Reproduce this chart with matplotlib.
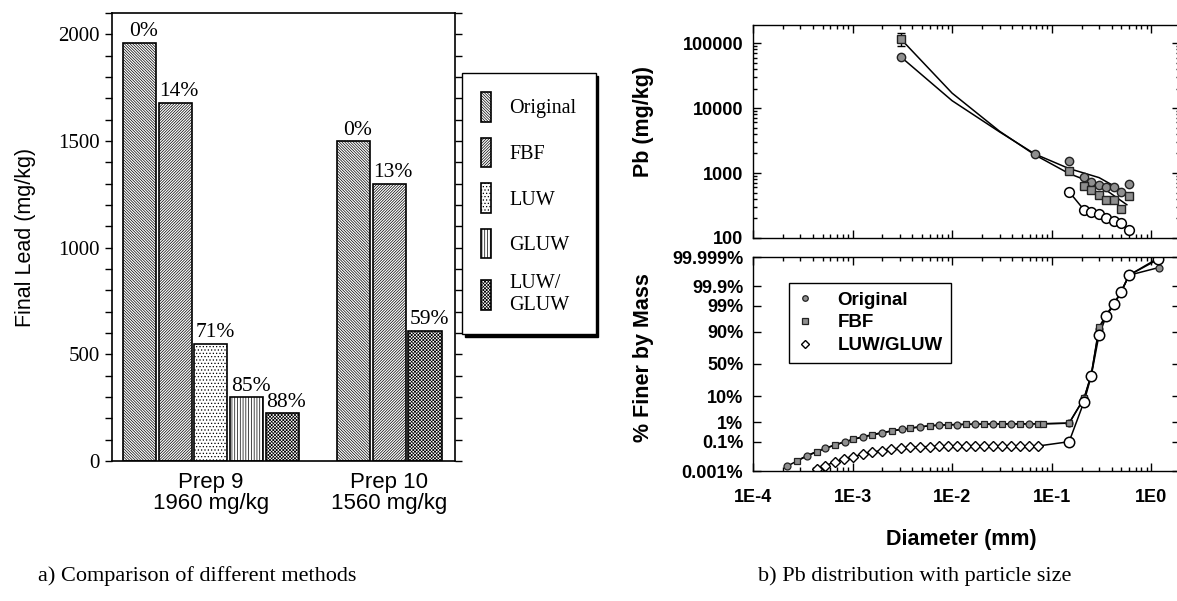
import numpy as np
import matplotlib
matplotlib.use('Agg')
import matplotlib.pyplot as plt
from matplotlib.ticker import (FixedLocator, FixedFormatter, NullLocator,
                               NullFormatter, LogLocator, FuncFormatter,
                               MultipleLocator)
from statistics import NormalDist

SERIF = 'Liberation Serif'
SANS = 'Liberation Sans'
plt.rcParams['hatch.linewidth'] = 0.5

# a) final lead after each method
methods = ['Original', 'FBF', 'LUW', 'GLUW', 'LUW/\nGLUW']
prep9_lead = [1960, 1680, 550, 300, 225]
prep9_removal = ['0%', '14%', '71%', '85%', '88%']
prep10_methods = ['Original', 'FBF', 'LUW/\nGLUW']
prep10_lead = [1500, 1300, 610]
prep10_removal = ['0%', '13%', '59%']
groups = ['Prep 9\n1960 mg/kg', 'Prep 10\n1560 mg/kg']

# b) top: Pb concentration vs diameter
orig_d_top = [0.00307, 0.068, 0.15, 0.212, 0.25, 0.3, 0.355, 0.425, 0.5, 0.6]
orig_pb_top = [61000, 1960, 1530, 870, 725, 650, 610, 615, 515, 670]
fbf_d_top = [0.00307, 0.15, 0.212, 0.25, 0.3, 0.355, 0.425, 0.5, 0.6]
fbf_pb_top = [115000, 1080, 630, 547, 460, 385, 385, 280, 450]
fbf_err_lo = [26000, 0, 0, 0, 0, 0, 0, 0, 0]
fbf_err_hi = [26000, 0, 0, 0, 0, 0, 0, 0, 0]
luw_d_top = [0.15, 0.212, 0.25, 0.3, 0.355, 0.425, 0.5, 0.6]
luw_pb_top = [515, 270, 254, 234, 200, 184, 172, 133]
orig_fit_d = [0.00307, 0.01, 0.03, 0.068, 0.15, 0.3, 0.57]
orig_fit_pb = [61000, 13000, 4300, 1960, 1170, 850, 490]
fbf_fit_d = [0.00307, 0.01, 0.03, 0.068, 0.15, 0.3, 0.57]
fbf_fit_pb = [115000, 17000, 4400, 1900, 980, 650, 325]

# b) bottom: cumulative % finer by mass
orig_d_bot = [2.18e-4, 3.47e-4, 5.29e-4, 8.41e-4, 1.28e-3, 1.96e-3, 3.12e-3,
              4.77e-3, 7.4e-3, 0.0112, 0.0170, 0.0258, 0.0392, 0.0594,
              0.15, 0.212, 0.25, 0.3, 0.355, 0.425, 0.5, 0.6, 1.2]
orig_pct_bot = [0.0022, 0.013, 0.039, 0.098, 0.19, 0.31, 0.47, 0.62, 0.74,
                0.79, 0.82, 0.84, 0.84, 0.85, 0.91, 8.6, 33, 92, 97.5, 99.2,
                99.8, 99.98, 99.994]
fbf_d_bot = [2.75e-4, 4.37e-4, 6.67e-4, 1.02e-3, 1.56e-3, 2.48e-3, 3.78e-3,
             6.01e-3, 9.1e-3, 0.0138, 0.0210, 0.0318, 0.0482, 0.0731, 0.082,
             0.15, 0.212, 0.25, 0.3, 0.355, 0.425, 0.5, 0.6, 1.18]
fbf_pct_bot = [0.0056, 0.024, 0.063, 0.135, 0.23, 0.38, 0.52, 0.70, 0.77,
               0.81, 0.83, 0.84, 0.85, 0.85, 0.85, 0.93, 8.6, 33, 93, 97.5,
               99.2, 99.8, 99.98, 99.9988]
luw_d_fine = [4.37e-4, 5.29e-4, 6.67e-4, 8.28e-4, 1.02e-3, 1.28e-3, 1.58e-3,
              1.96e-3, 2.44e-3, 3.05e-3, 3.78e-3, 4.77e-3, 6.01e-3, 7.4e-3,
              9.1e-3, 0.0112, 0.0138, 0.0170, 0.0210, 0.0258, 0.0318, 0.0392,
              0.0482, 0.0594, 0.0731]
luw_pct_fine = [0.0014, 0.0024, 0.005, 0.0073, 0.011, 0.017, 0.022, 0.028,
                0.034, 0.039, 0.045, 0.048, 0.050, 0.051, 0.052, 0.053, 0.053,
                0.053, 0.054, 0.054, 0.054, 0.054, 0.054, 0.054, 0.054]
luw_d_sieve = [0.15, 0.212, 0.25, 0.3, 0.355, 0.425, 0.5, 0.6, 1.18]
luw_pct_sieve = [0.098, 6.7, 31.6, 88, 97.2, 99.16, 99.8, 99.98, 99.9985]
pct_ticks = [0.001, 0.1, 1, 10, 50, 90, 99, 99.9, 99.999]
pct_labels = ['0.001%', '0.1%', '1%', '10%', '50%', '90%', '99%', '99.9%', '99.999%']

W, H = 1177, 601
fig = plt.figure(figsize=(W / 100, H / 100), dpi=100)


def box(x0, y0, x1, y1):
    # pixel box (top-left origin) -> figure fraction
    return [x0 / W, 1 - y1 / H, (x1 - x0) / W, (y1 - y0) / H]


# ---------------- a) bar chart ----------------
ax1 = fig.add_axes(box(112, 13, 455, 461))
hatches = ['\\' * 12, '/' * 12, '.' * 5, '|' * 6, 'x' * 10]
x9 = np.arange(len(prep9_lead))
x10 = np.arange(len(prep10_lead)) + len(prep9_lead) + 1
bars9 = ax1.bar(x9, prep9_lead, 0.93, color='white', edgecolor='black', linewidth=1.2)
bars10 = ax1.bar(x10, prep10_lead, 0.93, color='white', edgecolor='black', linewidth=1.2)
for b, h in zip(bars9, hatches):
    b.set_hatch(h)
for b, m in zip(bars10, prep10_methods):
    b.set_hatch(hatches[methods.index(m)])
for b, t in zip(list(bars9) + list(bars10), prep9_removal + prep10_removal):
    ax1.annotate(t, (b.get_x() + b.get_width() * 0.62, b.get_height()),
                 xytext=(0, 1), textcoords='offset points', ha='center', va='bottom',
                 family=SERIF, fontsize=15.5)
ax1.set_xlim(-0.77, 8.84)
ax1.set_ylim(0, 2100)
ax1.yaxis.set_major_locator(MultipleLocator(500))
ax1.yaxis.set_minor_locator(MultipleLocator(100))
ax1.tick_params(axis='y', which='both', direction='out', right=True, length=5,
                width=1, labelsize=15, labelfontfamily=SERIF, pad=4)
ax1.set_xticks([x9.mean(), x10.mean()], groups)
ax1.tick_params(axis='x', length=0, pad=8, labelsize=16, labelfontfamily=SANS)
for lab in ax1.get_xticklabels():
    lab.set_linespacing(1.0)
for s in ax1.spines.values():
    s.set_linewidth(1.2)
ax1.set_ylabel('Final Lead (mg/kg)', family=SANS, fontsize=15.5)
ax1.yaxis.set_label_coords(-0.222, 0.5)
leg1 = ax1.legend(list(bars9), methods, loc='upper left',
                  bbox_to_anchor=(462 / W, 1 - 73 / H), bbox_transform=fig.transFigure,
                  prop={'family': SERIF, 'size': 14.5}, handlelength=0.5,
                  handleheight=1.9, labelspacing=0.78, borderpad=0.95,
                  handletextpad=0.9, fancybox=False, edgecolor='black',
                  shadow={'color': 'black', 'alpha': 1}, framealpha=1,
                  borderaxespad=0)
leg1.get_frame().set_linewidth(1.0)

# ---------------- b) Pb vs particle size ----------------
xmax = 1.95
ax2 = fig.add_axes(box(753, 25, 1180, 238))
ax3 = fig.add_axes(box(753, 257, 1180, 471))

gray = '#8f8f8f'
ax2.plot(orig_fit_d, orig_fit_pb, '-', color='black', lw=1.1)
ax2.plot(fbf_fit_d, fbf_fit_pb, '-', color='black', lw=1.1)
ax2.plot(luw_d_top, luw_pb_top, '-', color='black', lw=1.1)
ax2.plot(orig_d_top, orig_pb_top, 'o', ms=6, mfc=gray, mec='#222222', mew=1, ls='none')
ax2.errorbar(fbf_d_top, fbf_pb_top, yerr=[fbf_err_lo, fbf_err_hi], fmt='s', ms=6,
             mfc=gray, mec='#222222', mew=1, ecolor='black', elinewidth=1, capsize=3)
ax2.plot(luw_d_top, luw_pb_top, 'o', ms=7, mfc='white', mec='black', mew=1.1, ls='none')
ax2.set_xscale('log')
ax2.set_yscale('log')
ax2.set_xlim(1e-4, xmax)
ax2.set_ylim(100, 1.9e5)
ax2.yaxis.set_major_locator(FixedLocator([100, 1000, 10000, 100000]))
ax2.yaxis.set_major_formatter(FuncFormatter(lambda v, p: f'{v:.0f}'))
ax2.yaxis.set_minor_locator(LogLocator(subs=np.arange(2, 10)))
ax2.yaxis.set_minor_formatter(NullFormatter())
ax2.set_ylabel('Pb (mg/kg)', family=SANS, fontsize=15.5, fontweight='bold')
ax2.yaxis.set_label_coords(-0.232, 0.545)

nd = NormalDist()


def pct_to_z(p):
    p = np.clip(np.asarray(p, dtype=float) / 100.0, 1e-12, 1 - 1e-12)
    return np.vectorize(nd.inv_cdf, otypes=[float])(p)


def z_to_pct(z):
    return np.vectorize(nd.cdf, otypes=[float])(np.asarray(z, dtype=float)) * 100.0


ax3.plot(orig_d_bot, orig_pct_bot, '-', color='black', lw=1.1)
ax3.plot(fbf_d_bot, fbf_pct_bot, '-', color='black', lw=1.1)
ax3.plot(luw_d_fine + luw_d_sieve, luw_pct_fine + luw_pct_sieve, '-', color='black', lw=1.1)
h_orig, = ax3.plot(orig_d_bot, orig_pct_bot, 'o', ms=5, mfc=gray, mec='#222222',
                   mew=0.9, ls='none', label='Original')
h_fbf, = ax3.plot(fbf_d_bot, fbf_pct_bot, 's', ms=5, mfc=gray, mec='#222222',
                  mew=0.9, ls='none', label='FBF')
h_luw, = ax3.plot(luw_d_fine, luw_pct_fine, 'D', ms=5, mfc='white', mec='black',
                  mew=1, ls='none', label='LUW/GLUW')
ax3.plot(luw_d_sieve, luw_pct_sieve, 'o', ms=7.5, mfc='white', mec='black', mew=1.1, ls='none')
ax3.set_xscale('log')
ax3.set_yscale('function', functions=(pct_to_z, z_to_pct))
ax3.set_xlim(1e-4, xmax)
ax3.set_ylim(0.001, 99.999)
ax3.yaxis.set_major_locator(FixedLocator(pct_ticks))
ax3.yaxis.set_major_formatter(FixedFormatter(pct_labels))
ax3.yaxis.set_minor_locator(NullLocator())
ax3.xaxis.set_major_formatter(FuncFormatter(lambda v, p: f'1E{int(round(np.log10(v)))}'))
ax3.set_ylabel('% Finer by Mass', family=SANS, fontsize=15.5, fontweight='bold')
ax3.yaxis.set_label_coords(-0.232, 0.528)
ax3.set_xlabel('Diameter (mm)', family=SANS, fontsize=15.5, fontweight='bold')
ax3.xaxis.set_label_coords(0.488, -0.27)
ax3.legend(handles=[h_orig, h_fbf, h_luw], loc='upper left',
           bbox_to_anchor=(789 / W, 1 - 283 / H), bbox_transform=fig.transFigure,
           prop={'family': SANS, 'size': 13.5, 'weight': 'bold'}, handlelength=0.8,
           handletextpad=1.35, labelspacing=0.3, borderpad=0.45, fancybox=False,
           edgecolor='black', framealpha=1, borderaxespad=0, markerscale=0.8)

for ax in (ax2, ax3):
    ax.xaxis.set_major_locator(LogLocator(numticks=10))
    ax.xaxis.set_minor_locator(LogLocator(subs=np.arange(2, 10), numticks=10))
    ax.xaxis.set_minor_formatter(NullFormatter())
    ax.tick_params(which='both', direction='in', top=True, right=True, width=1,
                   labelsize=13, labelfontfamily=SANS)
    ax.tick_params(which='major', length=6)
    ax.tick_params(which='minor', length=3)
    ax.tick_params(axis='y', pad=7)
    for s in ax.spines.values():
        s.set_linewidth(1.0)
ax2.tick_params(axis='x', labelbottom=False)
ax3.tick_params(axis='x', pad=13)
for ax in (ax2, ax3):
    plt.setp(ax.get_xticklabels() + ax.get_yticklabels(), fontweight='bold')

fig.text(197 / W, 1 - 576 / H, 'a) Comparison of different methods',
         ha='center', va='center', family=SERIF, fontsize=16)
fig.text(915 / W, 1 - 576 / H, 'b) Pb distribution with particle size',
         ha='center', va='center', family=SERIF, fontsize=16)

fig.savefig('out.png', dpi=100, facecolor='white')
